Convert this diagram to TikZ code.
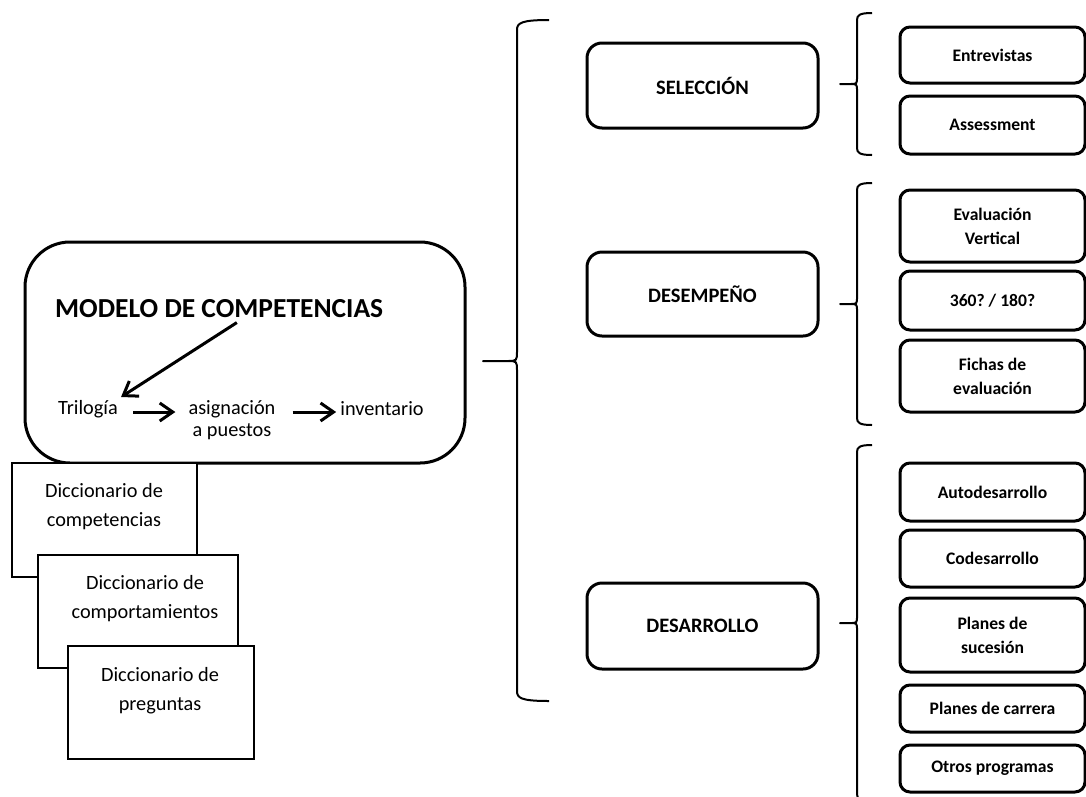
\documentclass[tikz,border=0pt]{standalone}
\usepackage{fontspec}
\setmainfont{Carlito}
\usetikzlibrary{arrows.meta}
\frenchspacing
\newcommand{\fsreg}{\fontsize{20.3}{29}\selectfont}
\newcommand{\fstitle}{\fontsize{27.5}{32}\selectfont\bfseries}
\newcommand{\fsmid}{\fontsize{20.5}{24}\selectfont\bfseries}
\newcommand{\fssub}{\fontsize{17.6}{24}\selectfont\bfseries}
\newcommand{\drawbrace}[7]{% xe xv xt yt ym yb r
  \draw[bracestyle] (#1,#4) .. controls (#2+0.4*#7,#4) and (#2,#4+0.3*#7) .. (#2,#4+#7)
    -- (#2,#5-#7) .. controls (#2,#5) .. (#2-#7,#5) -- (#3,#5) -- (#2-#7,#5)
    .. controls (#2,#5) .. (#2,#5+#7) -- (#2,#6-#7)
    .. controls (#2,#6-0.3*#7) and (#2+0.4*#7,#6) .. (#1,#6);}
\tikzset{
  mainbox/.style={draw, line width=3pt, rounded corners=45pt, minimum width=440pt, minimum height=221pt, inner sep=0pt},
  dictbox/.style={draw, fill=white, line width=1.8pt, inner sep=0pt},
  midbox/.style={draw, line width=3pt, rounded corners=15pt, minimum width=231pt, inner sep=0pt, font=\fsmid},
  subbox/.style={draw, line width=3pt, rounded corners=10pt, minimum width=185pt, inner sep=0pt, align=center, font=\fssub},
  txt/.style={align=center, font=\fsreg, inner sep=3pt},
  arr/.style={line width=3pt, -{Straight Barb[length=13pt,width=18pt,line width=3pt]}},
  bracestyle/.style={line width=2pt, line join=round}
}
\begin{document}
\begin{tikzpicture}[x=1pt,y=-1pt]
\fill[white] (0,0) rectangle (1086,796);
\useasboundingbox (0,0) rectangle (1086,796);

% main box
\node[mainbox] (main) at (245,352.5) {};
\node[anchor=base west, font=\fstitle, inner sep=3pt] (title) at (52,317) {MODELO DE COMPETENCIAS};
\node[txt] (tri) at (88,409) {Trilogía};
\node[txt, font=\fontsize{20.3}{22}\selectfont] (asig) at (232,420) {asignación\\a puestos};
\node[txt] (inv) at (382,409) {inventario};
\draw[arr, shorten <=4pt] ([xshift=21pt]title.south) -- (tri.north east);
\draw[arr, shorten <=12pt, shorten >=10pt] ([yshift=-3pt]tri.east) -- ([yshift=-3pt]tri.east -| asig.west);
\draw[arr, shorten <=14pt, shorten >=1pt] ([yshift=-3pt]tri.east -| asig.east) -- ([yshift=-3pt]inv.west);

% dictionary boxes
\node[dictbox, minimum width=185pt, minimum height=114pt] (d1) at (104.5,520) {};
\node[txt] (d1t) at (104,507) {Diccionario de\\competencias};
\node[dictbox, minimum width=200pt, minimum height=113pt] (d2) at (138,611.5) {};
\node[txt] (d2t) at (145,599) {Diccionario de\\comportamientos};
\node[dictbox, minimum width=186pt, minimum height=113pt] (d3) at (161,702.5) {};
\node[txt] (d3t) at (160,691) {Diccionario de\\preguntas};

% big brace
\drawbrace{549}{517}{483}{20}{361}{701}{10}

% middle boxes
\node[midbox, minimum height=85pt] (sel) at (702.5,85.5) {SELECCIÓN};
\node[midbox, minimum height=84pt] (des) at (702.5,294) {DESEMPEÑO};
\node[midbox, minimum height=86pt] (dvl) at (702.5,626) {DESARROLLO};

% small braces
\drawbrace{872}{857}{840}{13}{84}{155}{7}
\drawbrace{872}{857}{840}{183}{304}{425}{7}
\drawbrace{872}{857}{840}{445}{623}{801}{7}

% right boxes
\node[subbox, minimum height=56pt] (s1) at (992.5,55) {Entrevistas};
\node[subbox, minimum height=58pt] (s2) at (992.5,125) {Assessment};
\node[subbox, minimum height=72pt] (s3) at (992.5,226) {Evaluación\\Vertical};
\node[subbox, minimum height=59pt] (s4) at (992.5,300.5) {360? / 180?};
\node[subbox, minimum height=72pt] (s5) at (992.5,376) {Fichas de\\evaluación};
\node[subbox, minimum height=58pt] (s6) at (992.5,492) {Autodesarrollo};
\node[subbox, minimum height=57pt] (s7) at (992.5,558.5) {Codesarrollo};
\node[subbox, minimum height=74pt] (s8) at (992.5,635) {Planes de\\sucesión};
\node[subbox, minimum height=47pt] (s9) at (992.5,708.5) {Planes de carrera};
\node[subbox, minimum height=47pt] (s10) at (992.5,768.5) {Otros programas};
\end{tikzpicture}
\end{document}
